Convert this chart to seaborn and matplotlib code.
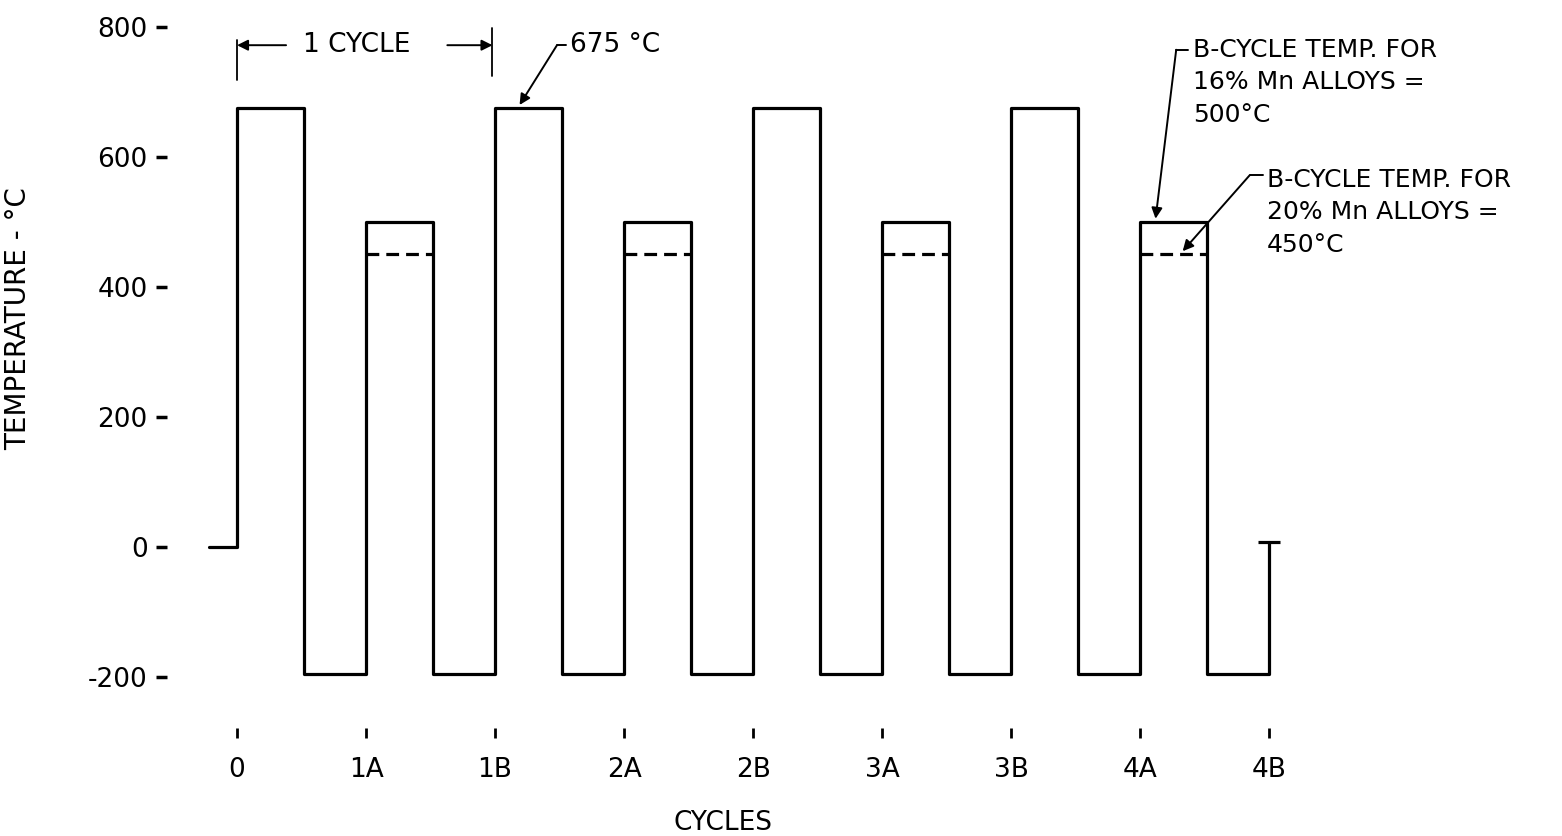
import matplotlib.pyplot as plt
import seaborn as sns
import numpy as np
import pandas as pd

# data
cycle_labels = ['0', '1A', '1B', '2A', '2B', '3A', '3B', '4A', '4B']
hold_temps = [675, 500, 675, 500, 675, 500, 675, 500]   # upper temperature after each label
quench_temp = -196
start_x = -0.22
start_temp = 0
end_temp = 8
alt_a_temp = 450      # B-cycle temp for 20% Mn alloys
hold_frac = 0.52      # fraction of a step spent at the upper temperature
yticks = [-200, 0, 200, 400, 600, 800]

# build the step path
xs = [start_x, 0]
ys = [start_temp, start_temp]
for i, t in enumerate(hold_temps):
    xs += [i, i + hold_frac, i + hold_frac, i + 1]
    ys += [t, t, quench_temp, quench_temp]
xs.append(len(hold_temps))
ys.append(end_temp)
df = pd.DataFrame({'step': xs, 'temp': ys})

sns.set_style('white')
plt.rcParams['font.family'] = ['DejaVu Sans']
plt.rcParams.update({'text.color': 'black', 'axes.labelcolor': 'black',
                     'xtick.color': 'black', 'ytick.color': 'black'})

fig = plt.figure(figsize=(15.62, 8.36), dpi=100)
ax = fig.add_axes([167 / 1562, 1 - 738 / 836, (1540 - 167) / 1562, (738 - 14) / 836])

lw = 2.3
sns.lineplot(data=df, x='step', y='temp', sort=False, estimator=None,
             color='black', lw=lw, ax=ax)

# dashed 450 °C level in the A steps
a_idx = [i for i in range(len(hold_temps)) if cycle_labels[i].endswith('A')]
for i in a_idx:
    ax.plot([i, i + hold_frac], [alt_a_temp, alt_a_temp], color='black', lw=lw,
            dashes=(4, 2.2))

# cap at end of the last step
ax.plot([len(hold_temps)], [end_temp], marker='_', ms=16, mew=lw, color='black')

ax.set_xlim(-0.543, 10.1)
ax.set_ylim(-294, 820)
for s in ax.spines.values():
    s.set_visible(False)

ax.set_xticks(range(len(cycle_labels)))
ax.set_xticklabels(cycle_labels)
ax.set_yticks(yticks)
ax.set_yticklabels([str(v) for v in yticks])
ax.tick_params(axis='x', bottom=True, direction='in', length=7, width=2, pad=14, labelsize=19)
ax.tick_params(axis='y', left=True, direction='out', length=8, width=2.5, pad=6, labelsize=19)

ax.set_ylabel('TEMPERATURE - °C', fontsize=20, labelpad=0)
ax.yaxis.set_label_coords(-0.098, 0.58)
ax.set_xlabel('CYCLES', fontsize=19)
ax.xaxis.set_label_coords(0.405, -0.1)

arrow = dict(arrowstyle='-|>', color='black', lw=1.4, mutation_scale=16, shrinkA=0, shrinkB=0)

# "1 CYCLE" dimension
ax.plot([0, 0], [718, 780], color='black', lw=1.3)
ax.plot([1.98, 1.98], [725, 798], color='black', lw=1.3)
ax.text(0.93, 772, '1 CYCLE', fontsize=19, ha='center', va='center')
ax.annotate('', xy=(0, 772), xytext=(0.38, 772), arrowprops=arrow)
ax.annotate('', xy=(1.98, 772), xytext=(1.63, 772), arrowprops=arrow)

# 675 °C label
ax.plot([2.48, 2.55], [772, 772], color='black', lw=1.4)
ax.annotate('', xy=(2.19, 680), xytext=(2.48, 772), arrowprops=arrow)
ax.text(2.58, 772, '675 °C', fontsize=19, ha='left', va='center')

# B-cycle notes
ax.plot([7.28, 7.37], [765, 765], color='black', lw=1.4)
ax.annotate('', xy=(7.12, 505), xytext=(7.28, 765), arrowprops=arrow)
ax.text(7.41, 715, 'B-CYCLE TEMP. FOR\n16% Mn ALLOYS =\n500°C', fontsize=18,
        ha='left', va='center', linespacing=1.45)

ax.plot([7.85, 7.95], [572, 572], color='black', lw=1.4)
ax.annotate('', xy=(7.33, 455), xytext=(7.85, 572), arrowprops=arrow)
ax.text(7.98, 515, 'B-CYCLE TEMP. FOR\n20% Mn ALLOYS =\n450°C', fontsize=18,
        ha='left', va='center', linespacing=1.45)

plt.savefig('out.png', dpi=100)
